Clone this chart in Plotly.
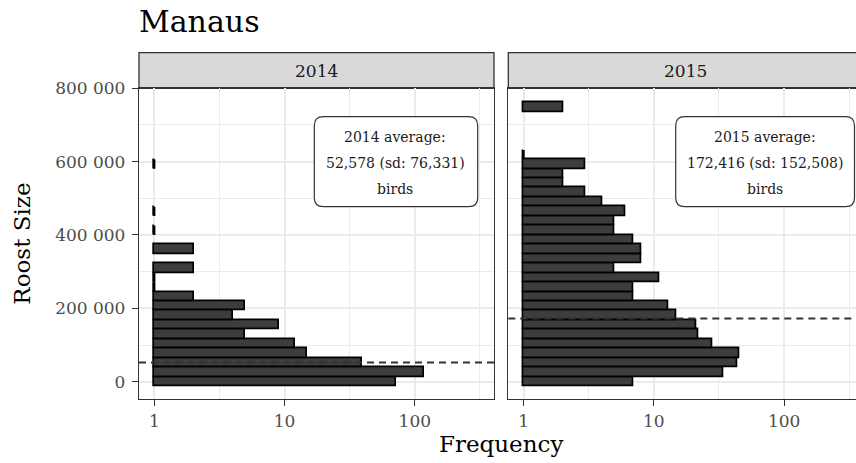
import math
import plotly.graph_objects as go

# ---------------- data ----------------
years = ["2014", "2015"]
bin_width = 25800
bin_centers = [0, 25800, 51600, 77400, 103200, 129000, 154800, 180600, 206400, 232200,
               258000, 283800, 309600, 335400, 361200, 387000, 412800, 438600, 464400, 490200,
               516000, 541800, 567600, 593400, 619200, 645000, 670800, 696600, 722400, 748200]
counts_2014 = [72, 118, 39, 15, 12, 5, 9, 4, 5, 2,
               1, 1, 2, 0, 2, 0, 1, 0, 1, 0,
               0, 0, 0, 1, 0, 0, 0, 0, 0, 0]
counts_2015 = [7, 34, 44, 45, 28, 22, 21, 15, 13, 7,
               7, 11, 5, 8, 8, 7, 5, 5, 6, 4,
               3, 2, 2, 3, 1, 0, 0, 0, 0, 2]
means = [52578, 172416]
label_lines = [["2014 average:", "52,578 (sd: 76,331)", "birds"],
               ["2015 average:", "172,416 (sd: 152,508)", "birds"]]
label_x = 71
label_y = 600000
x_ticks = [1, 10, 100]
y_ticks = [0, 200000, 400000, 600000, 800000]

# ---------------- layout geometry (pixels) ----------------
W, H = 856, 463
ML, MR, MT, MB = 139, 0, 52, 64
PW, PH = W - ML - MR, H - MT - MB


def X(px):
    return (px - ML) / PW


def Y(py):
    return (H - MB - py) / PH


FONT = "DejaVu Serif"
GRID = "#ebebeb"
DARK = "#333333"

panel1 = (139, 494)
panel2 = (508.3, 863)
panel_top, panel_bot = 88.3, 399
strip_top = 52.7

fig = go.Figure()

all_counts = [counts_2014, counts_2015]
for i, cnts in enumerate(all_counts):
    xa = "x" if i == 0 else "x2"
    ya = "y" if i == 0 else "y2"
    ys = [c for c, n in zip(bin_centers, cnts) if n > 0]
    ns = [n for n in cnts if n > 0]
    fig.add_trace(go.Bar(
        y=ys, x=[n - 1 for n in ns], base=[1] * len(ns), orientation="h",
        width=bin_width, marker=dict(color="#3d3d3d", line=dict(color="black", width=1.7)),
        xaxis=xa, yaxis=ya, showlegend=False,
        customdata=ns, hovertemplate="%{customdata}<extra></extra>",
    ))
    # bins with a count of 1 have zero length on the log scale: drawn as outlines
    lx, ly = [], []
    for c, n in zip(bin_centers, cnts):
        if n == 1:
            lx += [n, n, None]
            ly += [c - bin_width / 2, c + bin_width / 2, None]
    fig.add_trace(go.Scatter(x=lx, y=ly, mode="lines", line=dict(color="black", width=2.2),
                             xaxis=xa, yaxis=ya, showlegend=False, hoverinfo="skip"))

shapes = []
annotations = []

# mean lines
for i, m in enumerate(means):
    xr = "x domain" if i == 0 else "x2 domain"
    yr = "y" if i == 0 else "y2"
    shapes.append(dict(type="line", xref=xr, yref=yr, x0=0, x1=1, y0=m, y1=m,
                       line=dict(color=DARK, width=2, dash="7px,5px"), layer="above"))

# strips
for i, (a, b) in enumerate([panel1, panel2]):
    shapes.append(dict(type="rect", xref="paper", yref="paper",
                       x0=X(a), x1=X(b), y0=Y(panel_top), y1=Y(strip_top),
                       fillcolor="#d9d9d9", line=dict(color=DARK, width=1.3), layer="below"))
    annotations.append(dict(text=years[i], xref="paper", yref="paper",
                            x=X((a + b) / 2), y=Y((panel_top + strip_top) / 2),
                            xanchor="center", yanchor="middle", showarrow=False,
                            font=dict(family=FONT, size=17, color="#1a1a1a")))


def rounded(x0, y0, x1, y1, r):
    # pixel box -> paper path with rounded corners
    rx, ry = r / PW, r / PH
    a, b, c, d = X(x0), Y(y1), X(x1), Y(y0)  # left, bottom, right, top
    return (f"M{a+rx},{b} L{c-rx},{b} Q{c},{b} {c},{b+ry} L{c},{d-ry} Q{c},{d} {c-rx},{d} "
            f"L{a+rx},{d} Q{a},{d} {a},{d-ry} L{a},{b+ry} Q{a},{b} {a+rx},{b} Z")


boxes = [(314.3, 116.7, 477.7, 206.7), (675.7, 116.7, 854.5, 206.7)]
for i, bx in enumerate(boxes):
    shapes.append(dict(type="path", xref="paper", yref="paper", path=rounded(*bx, 9),
                       fillcolor="white", line=dict(color=DARK, width=1.2), layer="above"))
    xr = "x" if i == 0 else "x2"
    yr = "y" if i == 0 else "y2"
    for j, txt in enumerate(label_lines[i]):
        annotations.append(dict(text=txt, xref=xr, yref=yr, x=math.log10(label_x), y=label_y,
                                yshift=[25, -1, -27][j], showarrow=False,
                                xanchor="center", yanchor="middle",
                                font=dict(family=FONT, size=14, color="#1a1a1a")))

# axis titles
annotations.append(dict(text="Frequency", xref="paper", yref="paper",
                        x=X((panel1[0] + panel2[1]) / 2), y=Y(444),
                        xanchor="center", yanchor="middle", showarrow=False,
                        font=dict(family=FONT, size=23, color="black")))
annotations.append(dict(text="Roost Size", xref="paper", yref="paper",
                        x=X(22), y=Y((panel_top + panel_bot) / 2), textangle=-90,
                        xanchor="center", yanchor="middle", showarrow=False,
                        font=dict(family=FONT, size=23, color="black")))

dec = 130.25  # pixels per decade
x_lo = -15.3 / dec
xr1 = [x_lo, x_lo + (panel1[1] - panel1[0]) / dec]
xr2 = [x_lo, x_lo + (W - panel2[0]) / dec]
minor_x = [10 ** 0.5, 10 ** 1.5, 10 ** 2.5]

xcommon = dict(type="log", tickvals=x_ticks, ticktext=[str(v) for v in x_ticks],
               ticks="outside", ticklen=6, tickwidth=1.3, tickcolor=DARK,
               tickfont=dict(family=FONT, size=17, color="#4d4d4d"),
               showgrid=True, gridcolor=GRID, gridwidth=1.5, zeroline=False,
               showline=True, linecolor=DARK, linewidth=1.3,
               minor=dict(tickmode="array", tickvals=minor_x, showgrid=True,
                          gridcolor=GRID, gridwidth=1, ticks=""))
ycommon = dict(range=[-47200, 800000], tickvals=y_ticks, tickformat=",d",
               ticks="outside", ticklen=6, tickwidth=1.3, tickcolor=DARK,
               tickfont=dict(family=FONT, size=17, color="#4d4d4d"),
               showgrid=True, gridcolor=GRID, gridwidth=1.5, zeroline=False,
               showline=True, linecolor=DARK, linewidth=1.3,
               minor=dict(dtick=100000, showgrid=True, gridcolor=GRID, gridwidth=1, ticks=""),
               domain=[0, Y(panel_top)])

fig.update_layout(
    width=W, height=H,
    margin=dict(l=ML, r=MR, t=MT, b=MB),
    paper_bgcolor="white", plot_bgcolor="white",
    separators=". ",
    bargap=0,
    title=dict(text="Manaus", x=0, xref="paper", xanchor="left",
               y=1 - 21 / H, yref="container", yanchor="middle",
               font=dict(family=FONT, size=30, color="black")),
    xaxis=dict(**xcommon, range=xr1, domain=[0, X(panel1[1])], mirror=True, anchor="y"),
    xaxis2=dict(**xcommon, range=xr2, domain=[X(panel2[0]), 1], mirror=True, anchor="y2"),
    yaxis=dict(**ycommon, mirror=True, anchor="x", ticklabelstandoff=3),
    yaxis2=dict(**ycommon, matches="y", anchor="x2", showticklabels=False),
    shapes=shapes, annotations=annotations,
    showlegend=False,
)
fig.update_yaxes(ticks="", selector=dict(anchor="x2"))

fig.write_html("out.html")
